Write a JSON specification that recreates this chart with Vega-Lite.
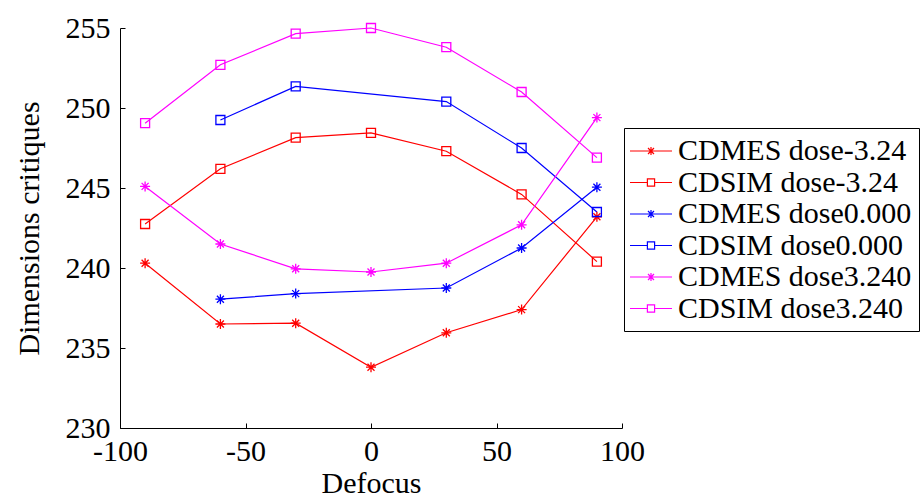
{
  "$schema": "https://vega.github.io/schema/vega-lite/v6.json",
  "width": 502,
  "height": 400,
  "autosize": {"type": "none"},
  "padding": {"left": 120, "top": 28, "right": 299, "bottom": 70},
  "background": "white",
  "config": {
    "view": {"stroke": null},
    "axis": {
      "grid": false,
      "domainColor": "black",
      "domainWidth": 1,
      "tickColor": "black",
      "tickSize": -5,
      "labelFont": "Liberation Serif",
      "labelFontSize": 30,
      "labelColor": "black",
      "labelExpr": "'' + datum.value",
      "titleFont": "Liberation Serif",
      "titleFontSize": 30,
      "titleFontWeight": "normal",
      "titleColor": "black"
    }
  },
  "data": {
    "values": [
      {"d": -90, "cd": 240.3, "s": "CDMES dose-3.24"},
      {"d": -60, "cd": 236.5, "s": "CDMES dose-3.24"},
      {"d": -30, "cd": 236.55, "s": "CDMES dose-3.24"},
      {"d": 0, "cd": 233.8, "s": "CDMES dose-3.24"},
      {"d": 30, "cd": 235.95, "s": "CDMES dose-3.24"},
      {"d": 60, "cd": 237.4, "s": "CDMES dose-3.24"},
      {"d": 90, "cd": 243.2, "s": "CDMES dose-3.24"},
      {"d": -90, "cd": 242.75, "s": "CDSIM dose-3.24"},
      {"d": -60, "cd": 246.2, "s": "CDSIM dose-3.24"},
      {"d": -30, "cd": 248.15, "s": "CDSIM dose-3.24"},
      {"d": 0, "cd": 248.45, "s": "CDSIM dose-3.24"},
      {"d": 30, "cd": 247.3, "s": "CDSIM dose-3.24"},
      {"d": 60, "cd": 244.6, "s": "CDSIM dose-3.24"},
      {"d": 90, "cd": 240.4, "s": "CDSIM dose-3.24"},
      {"d": -60, "cd": 238.05, "s": "CDMES dose0.000"},
      {"d": -30, "cd": 238.4, "s": "CDMES dose0.000"},
      {"d": 30, "cd": 238.75, "s": "CDMES dose0.000"},
      {"d": 60, "cd": 241.25, "s": "CDMES dose0.000"},
      {"d": 90, "cd": 245.05, "s": "CDMES dose0.000"},
      {"d": -60, "cd": 249.25, "s": "CDSIM dose0.000"},
      {"d": -30, "cd": 251.35, "s": "CDSIM dose0.000"},
      {"d": 30, "cd": 250.4, "s": "CDSIM dose0.000"},
      {"d": 60, "cd": 247.5, "s": "CDSIM dose0.000"},
      {"d": 90, "cd": 243.5, "s": "CDSIM dose0.000"},
      {"d": -90, "cd": 245.1, "s": "CDMES dose3.240"},
      {"d": -60, "cd": 241.5, "s": "CDMES dose3.240"},
      {"d": -30, "cd": 239.95, "s": "CDMES dose3.240"},
      {"d": 0, "cd": 239.75, "s": "CDMES dose3.240"},
      {"d": 30, "cd": 240.3, "s": "CDMES dose3.240"},
      {"d": 60, "cd": 242.7, "s": "CDMES dose3.240"},
      {"d": 90, "cd": 249.4, "s": "CDMES dose3.240"},
      {"d": -90, "cd": 249.05, "s": "CDSIM dose3.240"},
      {"d": -60, "cd": 252.7, "s": "CDSIM dose3.240"},
      {"d": -30, "cd": 254.65, "s": "CDSIM dose3.240"},
      {"d": 0, "cd": 255.0, "s": "CDSIM dose3.240"},
      {"d": 30, "cd": 253.8, "s": "CDSIM dose3.240"},
      {"d": 60, "cd": 251.0, "s": "CDSIM dose3.240"},
      {"d": 90, "cd": 246.9, "s": "CDSIM dose3.240"}
    ]
  },
  "encoding": {
    "x": {
      "field": "d", "type": "quantitative",
      "scale": {"domain": [-100, 100], "nice": false, "zero": false},
      "axis": {"values": [-100, -50, 0, 50, 100], "title": "Defocus", "labelPadding": 13, "titlePadding": 2, "labelFlush": false}
    },
    "y": {
      "field": "cd", "type": "quantitative",
      "scale": {"domain": [230, 255], "nice": false, "zero": false},
      "axis": {"values": [230, 235, 240, 245, 250, 255], "title": "Dimensions critiques", "labelPadding": 15, "titlePadding": 21, "labelFlush": false}
    }
  },
  "layer": [
    {
      "mark": {"type": "line", "strokeWidth": 1.2},
      "encoding": {
        "color": {
          "field": "s", "type": "nominal", "legend": null,
          "scale": {
            "domain": ["CDMES dose-3.24", "CDSIM dose-3.24", "CDMES dose0.000", "CDSIM dose0.000", "CDMES dose3.240", "CDSIM dose3.240"],
            "range": ["#ff0000", "#ff0000", "#0000ff", "#0000ff", "#ff00ff", "#ff00ff"]
          }
        },
        "order": {"field": "d"}
      }
    },
    {
      "mark": {"type": "point", "filled": false, "strokeWidth": 1.3, "opacity": 1},
      "encoding": {
        "color": {
          "field": "s", "type": "nominal", "legend": null,
          "scale": {
            "domain": ["CDMES dose-3.24", "CDSIM dose-3.24", "CDMES dose0.000", "CDSIM dose0.000", "CDMES dose3.240", "CDSIM dose3.240"],
            "range": ["#ff0000", "#ff0000", "#0000ff", "#0000ff", "#ff00ff", "#ff00ff"]
          }
        },
        "shape": {
          "field": "s", "type": "nominal", "legend": null,
          "scale": {
            "domain": ["CDMES dose-3.24", "CDSIM dose-3.24", "CDMES dose0.000", "CDSIM dose0.000", "CDMES dose3.240", "CDSIM dose3.240"],
            "range": [
              "M0,-1V1M-1,0H1M-0.7,-0.7L0.7,0.7M-0.7,0.7L0.7,-0.7",
              "M-0.9,-0.9H0.9V0.9H-0.9Z",
              "M0,-1V1M-1,0H1M-0.7,-0.7L0.7,0.7M-0.7,0.7L0.7,-0.7",
              "M-0.9,-0.9H0.9V0.9H-0.9Z",
              "M0,-1V1M-1,0H1M-0.7,-0.7L0.7,0.7M-0.7,0.7L0.7,-0.7",
              "M-0.9,-0.9H0.9V0.9H-0.9Z"
            ]
          }
        },
        "size": {"value": 100}
      }
    },
    {
      "mark": {"type": "point", "filled": false, "opacity": 0},
      "encoding": {
        "color": {
          "field": "s", "type": "nominal",
          "scale": {
            "domain": ["CDMES dose-3.24", "CDSIM dose-3.24", "CDMES dose0.000", "CDSIM dose0.000", "CDMES dose3.240", "CDSIM dose3.240"],
            "range": ["#ff0000", "#ff0000", "#0000ff", "#0000ff", "#ff00ff", "#ff00ff"]
          },
          "legend": {
            "title": null,
            "orient": "none",
            "legendX": 504,
            "legendY": 100,
            "padding": 7,
            "strokeColor": "black",
            "fillColor": "white",
            "labelFont": "Liberation Serif",
            "labelFontSize": 30,
            "labelColor": "black",
            "labelLimit": 0,
            "labelOffset": 11,
            "rowPadding": 0.5,
            "symbolSize": 900,
            "symbolOffset": 4,
            "symbolOpacity": 1,
            "symbolStrokeWidth": 1.2,
            "symbolFillColor": "transparent"
          }
        },
        "shape": {
          "field": "s", "type": "nominal",
          "scale": {
            "domain": ["CDMES dose-3.24", "CDSIM dose-3.24", "CDMES dose0.000", "CDSIM dose0.000", "CDMES dose3.240", "CDSIM dose3.240"],
            "range": [
              "M-1.4,0H1.4M0,-0.27V0.27M-0.2,-0.2L0.2,0.2M-0.2,0.2L0.2,-0.2",
              "M-1.4,0H-0.24M0.24,0H1.4M-0.24,-0.24H0.24V0.24H-0.24Z",
              "M-1.4,0H1.4M0,-0.27V0.27M-0.2,-0.2L0.2,0.2M-0.2,0.2L0.2,-0.2",
              "M-1.4,0H-0.24M0.24,0H1.4M-0.24,-0.24H0.24V0.24H-0.24Z",
              "M-1.4,0H1.4M0,-0.27V0.27M-0.2,-0.2L0.2,0.2M-0.2,0.2L0.2,-0.2",
              "M-1.4,0H-0.24M0.24,0H1.4M-0.24,-0.24H0.24V0.24H-0.24Z"
            ]
          }
        }
      }
    }
  ],
  "resolve": {"scale": {"color": "independent", "shape": "independent"}}
}
